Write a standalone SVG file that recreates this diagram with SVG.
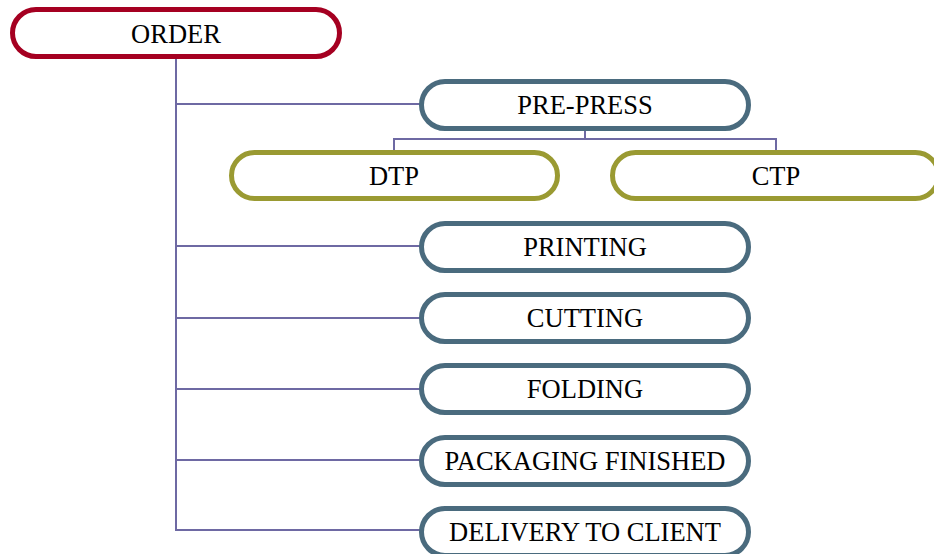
<svg xmlns="http://www.w3.org/2000/svg" width="934" height="554" viewBox="0 0 934 554">
<style>
.n{fill:#fff;stroke-width:5}
.red{stroke:#A50021}
.blue{stroke:#4A6B7E}
.olive{stroke:#9A9A32}
.t{font-family:"Liberation Serif","Times New Roman",serif;font-size:26.5px;fill:#000;text-anchor:middle}
.c{fill:none;stroke:#6E69A3;stroke-width:2}
</style>
<rect width="934" height="554" fill="#fff"/>
<g id="connectors">
<path class="c" d="M176 57V530H420M176 104H420M176 246H420M176 318H420M176 389H420M176 460H420"/>
<path class="c" d="M585 129V139M394 151V139H776V151"/>
</g>
<g id="order"><rect class="n red" x="12.5" y="9.5" width="327" height="47" rx="23.5"/><text class="t" x="176" y="43">ORDER</text></g>
<g id="prepress"><rect class="n blue" x="421.5" y="81.5" width="327" height="47" rx="23.5"/><text class="t" x="585" y="114">PRE-PRESS</text></g>
<g id="dtp"><rect class="n olive" x="231.5" y="152.5" width="326" height="46" rx="23"/><text class="t" x="394" y="185">DTP</text></g>
<g id="ctp"><rect class="n olive" x="612.5" y="152.5" width="326" height="46" rx="23"/><text class="t" x="776" y="185">CTP</text></g>
<g id="printing"><rect class="n blue" x="421.5" y="223.5" width="327" height="47" rx="23.5"/><text class="t" x="585" y="256">PRINTING</text></g>
<g id="cutting"><rect class="n blue" x="421.5" y="294.5" width="327" height="47" rx="23.5"/><text class="t" x="585" y="327">CUTTING</text></g>
<g id="folding"><rect class="n blue" x="421.5" y="365.5" width="327" height="47" rx="23.5"/><text class="t" x="585" y="398">FOLDING</text></g>
<g id="packaging"><rect class="n blue" x="421.5" y="437.5" width="327" height="47" rx="23.5"/><text class="t" x="585" y="470">PACKAGING FINISHED</text></g>
<g id="delivery"><rect class="n blue" x="421.5" y="508.5" width="327" height="47" rx="23.5"/><text class="t" x="585" y="541">DELIVERY TO CLIENT</text></g>
</svg>
